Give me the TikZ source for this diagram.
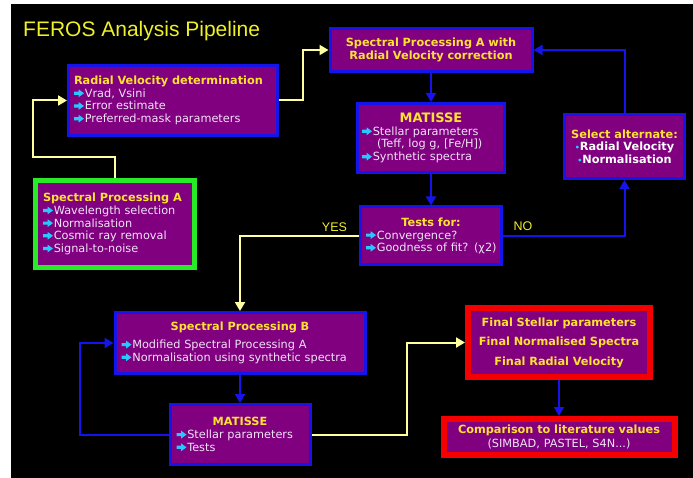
\documentclass[tikz,border=0pt]{standalone}
\usepackage{fontspec}
\setmainfont{DejaVu Sans}
\newfontfamily\slidefont{Liberation Sans}
\usetikzlibrary{arrows.meta}
\definecolor{boxpurple}{RGB}{128,0,128}
\definecolor{boxblue}{RGB}{20,20,235}
\definecolor{boxgreen}{RGB}{40,235,40}
\definecolor{boxred}{RGB}{245,0,0}
\definecolor{headyellow}{RGB}{255,225,50}
\definecolor{slideyellow}{RGB}{240,240,40}
\definecolor{bodywhite}{RGB}{240,228,245}
\definecolor{bulletcyan}{RGB}{40,200,255}
\definecolor{flowyellow}{RGB}{255,255,160}
\newcommand{\hd}[1]{{\bfseries\color{headyellow}#1}}
\newcommand{\itm}{\tikz[baseline=0pt, x=1pt, y=1pt]
  \fill[bulletcyan] (0,2.4) -- (4.5,2.4) -- (4.5,0) -- (10,4) -- (4.5,8) -- (4.5,5.6) -- (0,5.6) -- cycle;\hspace{0.8pt}}
\newcommand{\bul}{{\color{bulletcyan}\fontsize{8}{8}\selectfont•}}
\newcommand{\ctr}[1]{\hspace*{\fill}{#1}\hspace*{\fill}\null}
\tikzset{
  box/.style={draw=boxblue, line width=3pt, fill=boxpurple, text=bodywhite,
    align=left, inner ysep=0pt, font=\fontsize{11.3}{12.7}\selectfont},
  greenbox/.style={box, draw=boxgreen, line width=5pt},
  redbox/.style={box, draw=boxred, line width=6pt, align=center},
  flow/.style={line width=2pt, -{Triangle[length=9pt,width=10pt]}},
  yflow/.style={flow, color=flowyellow},
  bflow/.style={flow, color=boxblue},
  answer/.style={text=slideyellow, inner sep=0pt, font=\slidefont\fontsize{12.5}{14}\selectfont},
}

\begin{document}
\begin{tikzpicture}[x=1pt, y=-1pt]

% Slide background
\useasboundingbox (0,0) rectangle (693,478);
\fill[white] (0,0) rectangle (693,478);
\fill[black] (11,4) rectangle (693,478);

\node[anchor=base west, inner sep=0pt, text=slideyellow,
      font=\slidefont\fontsize{21}{24}\selectfont] (title) at (23,37)
      {FEROS Analysis Pipeline};

%%%%%%%%%%%%%%
% First pass
%%%%%%%%%%%%%%
\node[greenbox, text width=144pt, inner xsep=7.5pt, minimum height=87pt] (spa) at (115,224)
  {\hd{Spectral Processing A}\\
   \itm Wavelength selection\\
   \itm Normalisation\\
   \itm Cosmic ray removal\\
   \itm Signal-to-noise};

\node[box, text width=198pt, inner xsep=5.5pt, minimum height=70pt] (rv) at (173,100.5)
  {\hd{Radial Velocity determination}\\
   \itm Vrad, Vsini\\
   \itm Error estimate\\
   \itm Preferred-mask parameters};

\node[box, align=center, text width=190pt, inner xsep=6pt, minimum height=43pt,
      font=\fontsize{11.3}{13}\selectfont] (spaw) at (431,50)
  {\hd{Spectral Processing A with}\\
   \hd{Radial Velocity correction}};

\node[box, text width=138pt, inner xsep=4.5pt, minimum height=69pt] (mat1) at (431,138)
  {\ctr{\fontsize{13}{13}\selectfont\hd{MATISSE}}\\
   \itm Stellar parameters\\
   \hspace*{15pt}(Teff, log g, [Fe/H])\\
   \itm Synthetic spectra};

\node[box, text width=130pt, inner xsep=5.5pt, minimum height=58pt] (tests) at (431,236)
  {\ctr{\hd{Tests for:}}\\
   \itm Convergence?\\
   \mbox{\itm Goodness of fit? (χ2)}};

\node[box, align=center, text width=110pt, inner xsep=5pt, minimum height=64pt] (select) at (624.5,146.5)
  {\hd{Select alternate:}\\
   {\bfseries\color{white}\bul Radial Velocity}\\
   {\bfseries\color{white}\bul Normalisation}};

% Answers
\node[answer] (yes) at (334.5,227) {YES};
\node[answer] (no) at (523,226) {NO};

%%%%%%%%%%%%%%
% Second pass
%%%%%%%%%%%%%%
\node[box, text width=237pt, inner xsep=6.5pt, minimum height=61pt] (spb) at (240,343)
  {\ctr{\hd{Spectral Processing B}}\\[5pt]
   \itm Modified Spectral Processing A\\
   \itm Normalisation using synthetic spectra};

\node[box, text width=127pt, inner xsep=6.5pt, minimum height=60pt] (mat2) at (240,434.5)
  {\ctr{\hd{MATISSE}}\\
   \itm Stellar parameters\\
   \itm Tests};

% Results
\node[redbox, text width=170pt, inner xsep=6pt, minimum height=69pt,
      font=\fontsize{11.3}{19.5}\selectfont] (final) at (559,342.5)
  {\hd{Final Stellar parameters}\\
   \hd{Final Normalised Spectra}\\
   \hd{Final Radial Velocity}};

\node[redbox, text width=220pt, inner xsep=5.5pt, minimum height=36pt,
      font=\fontsize{11.3}{14}\selectfont] (comp) at (559,437)
  {\hd{Comparison to literature values}\\
   (SIMBAD, PASTEL, S4N...)};

%%%%%%%%%%%
% Connectors
%%%%%%%%%%%
\coordinate (k1) at (33,157);
\coordinate (k2) at (303,75);
\coordinate (k3) at (80,400);
\coordinate (k4) at (407,400);

\draw[yflow] (spa.north) |- (k1) |- (rv.west);
\draw[yflow] (rv.east) -| (k2) |- (spaw.west);
\draw[bflow] (spaw.south) -- (mat1.north);
\draw[bflow] (mat1.south) -- (tests.north);
\draw[bflow] (tests.east) -| (select.south);
\draw[bflow] (select.north) |- (spaw.east);
\draw[yflow] (tests.west) -| (spb.north);
\draw[bflow] (spb.south) -- (mat2.north);
\draw[bflow] (mat2.west) -| (k3) |- (spb.west);
\draw[yflow] (mat2.east) -| (k4) |- (final.west);
\draw[bflow] (final.south) -- (comp.north);

\end{tikzpicture}
\end{document}
